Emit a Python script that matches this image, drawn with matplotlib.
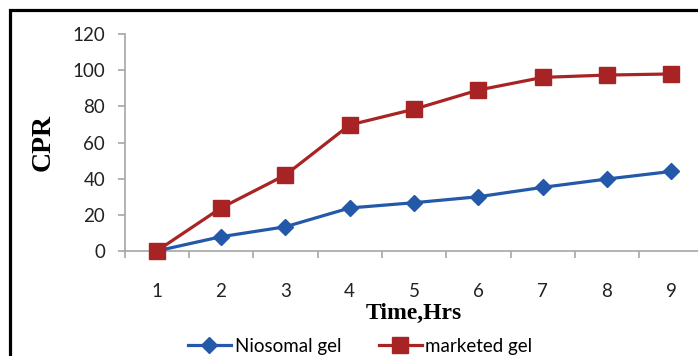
import matplotlib.pyplot as plt
from matplotlib.patches import Rectangle

# release data
hours = [1, 2, 3, 4, 5, 6, 7, 8, 9]
niosomal = [0, 7.9, 13.4, 23.8, 26.7, 30.0, 35.2, 39.8, 44.0]
marketed = [0, 23.8, 42.0, 69.7, 78.4, 89.0, 96.0, 97.3, 97.9]
yticks = [0, 20, 40, 60, 80, 100, 120]

blue = '#2458A8'
red = '#A82424'
grey = '#A6A6A6'

fig = plt.figure(figsize=(6.98, 3.56), dpi=100)
ax = fig.add_axes([124.5 / 698, 105 / 356, 579 / 698, 217 / 356])

ax.plot(hours, niosomal, color=blue, lw=2.3, marker='D', ms=8,
        label='Niosomal gel', clip_on=False, zorder=3)
ax.plot(hours, marketed, color=red, lw=2.3, marker='s', ms=11,
        label='marketed gel', clip_on=False, zorder=3)

ax.set_xlim(0.5, 9.5)
ax.set_ylim(0, 120)
ax.set_yticks(yticks)
ax.set_xticks(hours)
ax.set_xticks([h + 0.5 for h in [0] + hours], minor=True)

for s in ['top', 'right']:
    ax.spines[s].set_visible(False)
for s in ['left', 'bottom']:
    ax.spines[s].set_color(grey)
    ax.spines[s].set_linewidth(1.2)

ax.tick_params(axis='x', which='major', length=0, pad=23)
ax.tick_params(axis='x', which='minor', length=5, color=grey, width=1.2,
               direction='out')
ax.tick_params(axis='y', length=5, color=grey, width=1.2, pad=9)
for lab in ax.get_xticklabels() + ax.get_yticklabels():
    lab.set_fontfamily('Lato')
    lab.set_fontsize(13.5)
    lab.set_color('#222222')

ax.set_xlabel('Time,Hrs', fontfamily='Liberation Serif', fontweight='bold',
              fontsize=17, labelpad=2)
ax.set_ylabel('CPR', fontfamily='Liberation Serif', fontweight='bold',
              fontsize=20, labelpad=12)

fig.legend(loc='center', bbox_to_anchor=(0.516, 0.028), ncol=2,
           frameon=False, handlelength=2.3, columnspacing=2.0,
           handletextpad=0.2, prop={'family': 'Lato', 'size': 13.5})

# outer frame
fig.patches.append(Rectangle((9.5 / 698, -0.1), 1.2, (356 - 9.5) / 356 + 0.1,
                             transform=fig.transFigure, fill=False,
                             edgecolor='black', lw=2.3))

fig.savefig('out.png', dpi=100)
